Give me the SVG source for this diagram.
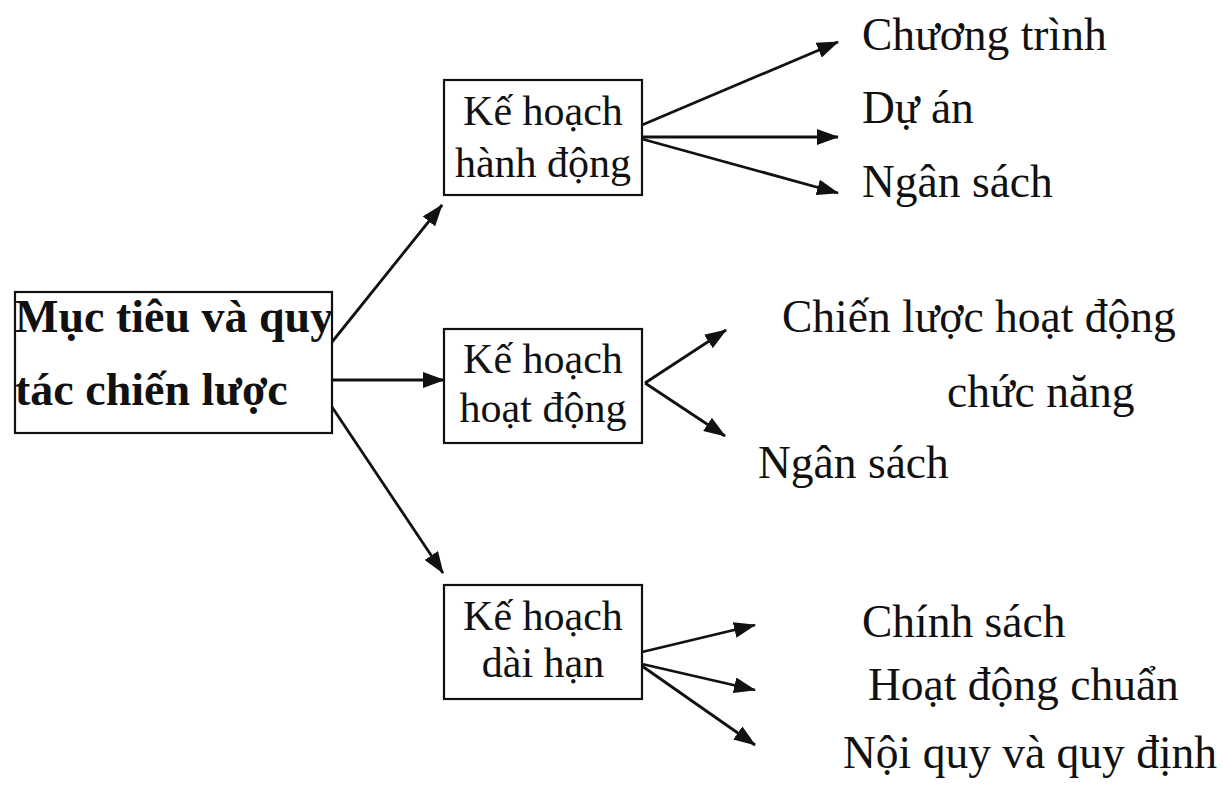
<svg xmlns="http://www.w3.org/2000/svg" width="1223" height="786" viewBox="0 0 1223 786">
<style>
.box{fill:#fff;stroke:#111;stroke-width:2.2}
.t{font-family:"Liberation Serif","Times New Roman",serif;font-size:42px;fill:#111}
.r{font-size:45.5px}
.b{font-family:"Liberation Serif","Times New Roman",serif;font-size:46px;font-weight:bold;fill:#111}
.c{text-anchor:middle}
.e{fill:none;stroke:#111;stroke-width:2.8}
</style>
<defs>
<marker id="ah" viewBox="0 0 22 16" refX="21" refY="8" markerWidth="22" markerHeight="16" markerUnits="userSpaceOnUse" orient="auto">
<path d="M0,0 L22,8 L0,16 z" fill="#111"/>
</marker>
</defs>
<rect width="1223" height="786" fill="#fff"/>
<g id="connectors">
<line class="e" x1="332" y1="342" x2="442" y2="205" marker-end="url(#ah)"/>
<line class="e" x1="332" y1="380" x2="444" y2="380" marker-end="url(#ah)"/>
<line class="e" x1="332" y1="407" x2="443" y2="573" marker-end="url(#ah)"/>
<line class="e" x1="642" y1="125" x2="838" y2="42" marker-end="url(#ah)"/>
<line class="e" x1="642" y1="137" x2="838" y2="137" marker-end="url(#ah)"/>
<line class="e" x1="642" y1="139" x2="838" y2="193" marker-end="url(#ah)"/>
<line class="e" x1="645" y1="383" x2="726" y2="330" marker-end="url(#ah)"/>
<line class="e" x1="645" y1="383" x2="725" y2="436" marker-end="url(#ah)"/>
<line class="e" x1="642" y1="652" x2="755" y2="625" marker-end="url(#ah)"/>
<line class="e" x1="642" y1="664" x2="755" y2="690" marker-end="url(#ah)"/>
<line class="e" x1="642" y1="666" x2="755" y2="745" marker-end="url(#ah)"/>
</g>
<g id="main">
<rect class="box" x="15" y="292" width="317" height="141" stroke-width="2.6"/>
<text class="b" x="15" y="332">Mục tiêu và quy</text>
<text class="b" x="15" y="405">tác chiến lược</text>
</g>
<g id="ke-hoach-hanh-dong">
<rect class="box" x="444" y="80" width="198" height="115"/>
<text class="t c" x="543" y="125">Kế hoạch</text>
<text class="t c" x="543" y="177">hành động</text>
</g>
<g id="ke-hoach-hoat-dong">
<rect class="box" x="444" y="329" width="198" height="114"/>
<text class="t c" x="543" y="373">Kế hoạch</text>
<text class="t c" x="543" y="422">hoạt động</text>
</g>
<g id="ke-hoach-dai-han">
<rect class="box" x="444" y="585" width="198" height="114"/>
<text class="t c" x="543" y="630">Kế hoạch</text>
<text class="t c" x="543" y="677">dài hạn</text>
</g>
<g id="chuong-trinh"><text class="t r" x="862" y="50">Chương trình</text></g>
<g id="du-an"><text class="t r" x="862" y="123">Dự án</text></g>
<g id="ngan-sach-1"><text class="t r" x="862" y="197">Ngân sách</text></g>
<g id="chien-luoc"><text class="t r" x="782" y="332">Chiến lược hoạt động</text>
<text class="t r" x="947" y="407">chức năng</text></g>
<g id="ngan-sach-2"><text class="t r" x="758" y="478">Ngân sách</text></g>
<g id="chinh-sach"><text class="t r" x="862" y="637">Chính sách</text></g>
<g id="hoat-dong-chuan"><text class="t r" x="868" y="700">Hoạt động chuẩn</text></g>
<g id="noi-quy"><text class="t r" x="843" y="768">Nội quy và quy định</text></g>
</svg>
